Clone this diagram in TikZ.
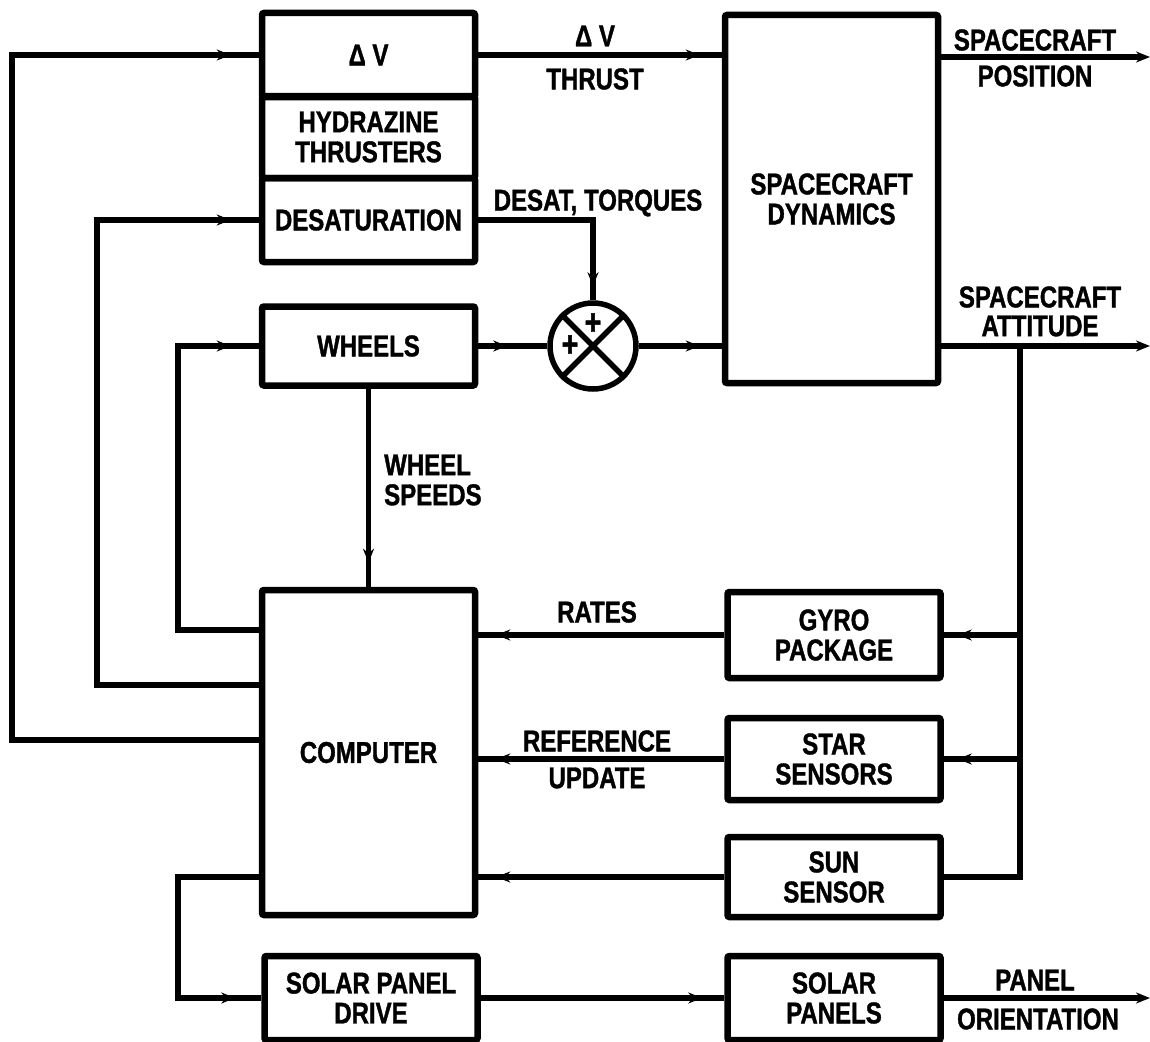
\documentclass[tikz,border=0pt]{standalone}
\usepackage{fontspec}
\setmainfont{Liberation Sans}[FakeStretch=0.8, BoldFeatures={FakeBold=1.2}]
\usetikzlibrary{arrows.meta,decorations.markings,calc}
\begin{document}
\begin{tikzpicture}[x=1pt,y=-1pt,
  txt/.style={font=\fontsize{30}{30}\selectfont\bfseries, align=center, inner sep=0pt},
  blk/.style={txt, draw, line width=6.5pt, rounded corners=2pt, minimum width=213pt},
  ln/.style={line width=5.5pt},
  arr/.style={ln, postaction={decorate}, decoration={markings, mark=at position #1 with {\arrow{Stealth[length=14pt,width=11pt]}}}},
  endarr/.style={ln, -{Stealth[length=14pt,width=11pt]}}
]
\useasboundingbox (0,0) rectangle (1150,1041);
% blocks
\node[blk, minimum height=84pt] (dv) at (368.5,55) {Δ V};
\node[blk, minimum height=82pt] (hyd) at (368.5,137) {HYDRAZINE\\THRUSTERS};
\node[blk, minimum height=84pt] (des) at (368.5,220) {DESATURATION};
\node[blk, minimum height=368pt] (dyn) at (831.5,199) {SPACECRAFT\\DYNAMICS};
\node[blk, minimum height=79pt] (wh) at (368.5,346) {WHEELS};
\node[blk, minimum height=325pt] (comp) at (368.5,752.5) {COMPUTER};
\node[blk, minimum height=86pt] (gyro) at (834,635) {GYRO\\PACKAGE};
\node[blk, minimum height=82pt] (star) at (834,759) {STAR\\SENSORS};
\node[blk, minimum height=80pt] (sun) at (834,877) {SUN\\SENSOR};
\node[blk, minimum height=84pt] (spd) at (371,998) {SOLAR PANEL\\DRIVE};
\node[blk, minimum height=84pt] (sp) at (834,998) {SOLAR\\PANELS};
% summing junction
\node[draw, circle, line width=5.5pt, minimum size=86pt, inner sep=0pt] (sum) at (593,346) {};
\draw[ln] (sum.north west) -- (sum.south east);
\draw[ln] (sum.north east) -- (sum.south west);
\node[txt, font=\fontsize{36}{36}\selectfont\bfseries] (p1) at (593,324) {+};
\node[txt, font=\fontsize{36}{36}\selectfont\bfseries] (p2) at (570,346) {+};
% coordinates
\coordinate (o1) at (12,740);
\coordinate (d1) at (97,685);
\coordinate (w1) at (178,630);
\coordinate (s1) at (178,877);
\coordinate (ra) at (1020,346);
\coordinate (posout) at (1150,57);
\coordinate (attout) at (1150,346);
\coordinate (panout) at (1150,998);
% connectors
\draw[arr=-22pt] (dv.east) -- (dv.east -| dyn.west);
\draw[endarr] (dyn.east |- posout) -- (posout);
\draw[arr=-14pt] (des.east) -| (sum.north);
\draw[arr=-40pt] (wh.east) -- (sum.west);
\draw[arr=-22pt] (sum.east) -- (wh.east -| dyn.west);
\draw[endarr] (dyn.east |- ra) -- (attout);
\draw[ln] (ra) |- (sun.east);
\draw[arr=-14pt] (ra |- gyro.east) -- (gyro.east);
\draw[arr=-14pt] (ra |- star.east) -- (star.east);
\draw[arr=-18pt] (gyro.west) -- (gyro.west -| comp.east);
\draw[arr=-18pt] (star.west) -- (star.west -| comp.east);
\draw[arr=-18pt] (sun.west) -- (sun.west -| comp.east);
\draw[arr=-24pt] (wh.south) -- (comp.north);
\draw[arr=-28pt] (comp.west |- w1) -- (w1) |- (wh.west);
\draw[arr=-28pt] (comp.west |- d1) -- (d1) |- (des.west);
\draw[arr=-28pt] (comp.west |- o1) -- (o1) |- (dv.west);
\draw[arr=-26pt] (comp.west |- s1) -- (s1) |- (spd.west);
\draw[arr=-22pt] (spd.east) -- (sp.west);
\draw[endarr] (sp.east) -- (panout);
% labels
\node[txt] (l1) at (595,36) {Δ V};
\node[txt] (l2) at (595,79) {THRUST};
\node[txt] (l3) at (598,203) {DESAT, TORQUES};
\node[txt] (l4) at (1035,40) {SPACECRAFT};
\node[txt] (l5) at (1035,76) {POSITION};
\node[txt] (l6) at (1040,297) {SPACECRAFT};
\node[txt] (l7) at (1040,326) {ATTITUDE};
\node[txt, align=left, anchor=west] (l8) at (384,480) {WHEEL\\SPEEDS};
\node[txt] (l9) at (597,612) {RATES};
\node[txt] (l10) at (597,741) {REFERENCE};
\node[txt] (l11) at (597,778) {UPDATE};
\node[txt] (l12) at (1035,980) {PANEL};
\node[txt] (l13) at (1038,1019) {ORIENTATION};
\end{tikzpicture}
\end{document}
